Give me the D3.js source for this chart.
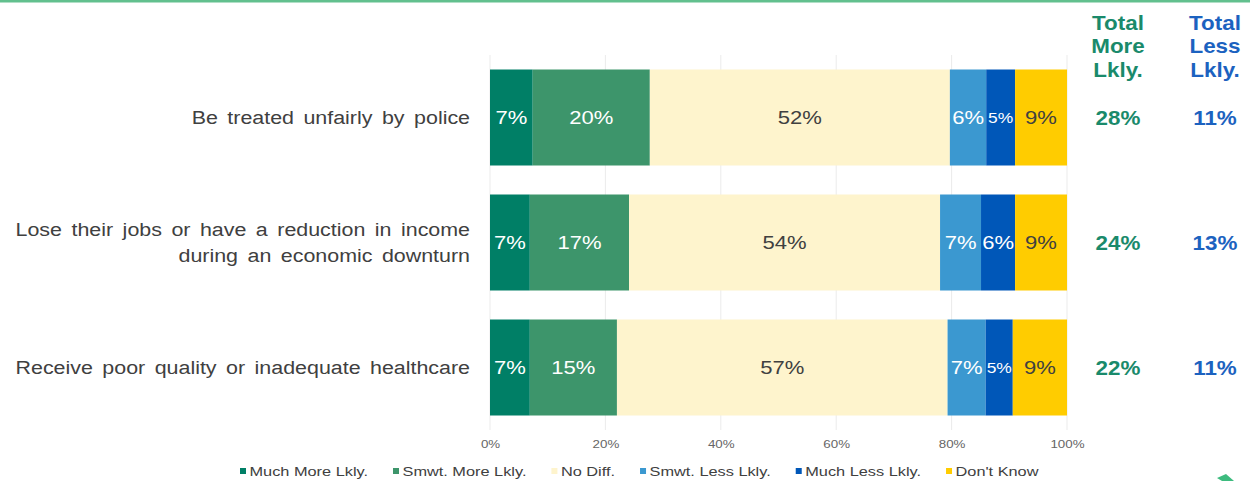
<!DOCTYPE html>
<html>
<head>
<meta charset="utf-8">
<script src="https://cdn.jsdelivr.net/npm/d3@7"></script>
<style>
  html, body { margin: 0; padding: 0; background: #fff; }
  svg { display: block; font-family: "Liberation Sans", Arial, sans-serif; }
</style>
</head>
<body>
<svg id="chart" width="1250" height="481"></svg>
<script>
// Survey items (rows of the stacked bar)
const categories = [
  "Be treated unfairly by police",
  "Lose their jobs or have a reduction in income|during an economic downturn",
  "Receive poor quality or inadequate healthcare"
];

// Response options, in stacking order
const seriesNames = ["Much More Lkly.", "Smwt. More Lkly.", "No Diff.", "Smwt. Less Lkly.", "Much Less Lkly.", "Don't Know"];

// Share of respondents (%) per response option, one value per category
const muchMore = [7.4, 6.9, 6.9];
const smwtMore = [20.3, 17.2, 15.1];
const noDiff   = [52.0, 53.9, 57.3];
const smwtLess = [6.3, 7.1, 6.6];
const muchLess = [5.0, 5.9, 4.7];
const dontKnow = [9.0, 9.0, 9.4];

// Axis tick values
const tickValues = [0, 20, 40, 60, 80, 100];

const colors = ["#007f66", "#3d956b", "#fef4cd", "#3b98d0", "#0057b8", "#ffcc00"];
const labelColors = ["#ffffff", "#ffffff", "#404040", "#ffffff", "#ffffff", "#404040"];

// Text in this layout is set slightly wide
const SX = 1.16;
const SX_CAT = 1.19;
const SX_LEG = 1.21;

const seriesValues = [muchMore, smwtMore, noDiff, smwtLess, muchLess, dontKnow];
const rows = categories.map((c, i) => {
  const r = { category: c };
  seriesNames.forEach((s, k) => r[s] = seriesValues[k][i]);
  return r;
});

const svg = d3.select("#chart");

// Top rule
svg.append("rect").attr("x", 0).attr("y", 0).attr("width", 1250).attr("height", 2.5).attr("fill", "#62c08e");

const x = d3.scaleLinear().domain([0, 100]).range([490, 1067]);
const y = d3.scaleBand().domain(categories).range([55, 430]).paddingInner(0.232).paddingOuter(0.116);

// Vertical gridlines
svg.append("g").selectAll("line").data(tickValues).join("line")
  .attr("x1", d => x(d)).attr("x2", d => x(d))
  .attr("y1", 55).attr("y2", 430)
  .attr("stroke", "#ebebeb").attr("stroke-width", 1);

// Axis tick labels
const axis = d3.axisBottom(x).tickValues(tickValues).tickFormat(d => d + "%").tickSize(0).tickPadding(0);
const ag = svg.append("g").attr("transform", "translate(0,440)").call(axis);
ag.select(".domain").remove();
ag.selectAll("text")
  .attr("fill", "#666666").attr("font-size", 11.5)
  .attr("font-family", "Liberation Sans, Arial, sans-serif")
  .attr("transform", `scale(${SX},1)`);

// Stacked bars
const stack = d3.stack().keys(seriesNames);
const layers = stack(rows);

const gLayers = svg.append("g").selectAll("g").data(layers).join("g")
  .attr("fill", (d, i) => colors[i]);

gLayers.selectAll("rect").data(d => d.map(p => ({ p, key: d.key, cat: p.data.category })))
  .join("rect")
  .attr("x", d => x(d.p[0]))
  .attr("y", d => y(d.cat))
  .attr("width", d => x(d.p[1]) - x(d.p[0]))
  .attr("height", y.bandwidth());

// Segment value labels
gLayers.each(function(layer, li) {
  d3.select(this).selectAll("text").data(layer).join("text")
    .attr("transform", p => `translate(${(x(p[0]) + x(p[1])) / 2},${y(p.data.category) + y.bandwidth() / 2}) scale(${SX},1)`)
    .attr("dy", "0.36em")
    .attr("text-anchor", "middle")
    .attr("fill", labelColors[li])
    .attr("font-size", p => (x(p[1]) - x(p[0])) < 32 ? 15 : 19)
    .text(p => Math.round(p[1] - p[0]) + "%");
});

// Category labels (right-aligned, may wrap onto two lines)
svg.append("g").selectAll("text").data(categories).join("text")
  .attr("transform", d => `translate(470,${y(d) + y.bandwidth() / 2}) scale(${SX_CAT},1)`)
  .attr("text-anchor", "end")
  .attr("fill", "#404040")
  .attr("font-size", 18)
  .style("word-spacing", "3px")
  .each(function(d) {
    const parts = d.split("|");
    const t = d3.select(this);
    const lh = 26;
    parts.forEach((s, i) => {
      t.append("tspan").attr("x", 0)
        .attr("dy", i === 0 ? (0.36 - (parts.length - 1) * lh / 2 / 18) + "em" : lh)
        .text(s);
    });
  });

// Total columns
const totalMore = rows.map(r => Math.round(r["Much More Lkly."] + r["Smwt. More Lkly."]));
const totalLess = rows.map(r => Math.round(r["Smwt. Less Lkly."] + r["Much Less Lkly."]));
const totals = [
  { title: ["Total", "More", "Lkly."], values: totalMore, color: "#1a8a6b", cx: 1118 },
  { title: ["Total", "Less", "Lkly."], values: totalLess, color: "#1c62c0", cx: 1215 }
];
totals.forEach(tc => {
  const h = svg.append("text").attr("text-anchor", "middle").attr("fill", tc.color)
    .attr("font-size", 20).attr("font-weight", "bold")
    .attr("transform", `translate(${tc.cx},0) scale(1.12,1)`);
  tc.title.forEach((s, i) => h.append("tspan").attr("x", 0).attr("y", 30 + i * 23.5).text(s));
  svg.append("g").selectAll("text").data(tc.values).join("text")
    .attr("transform", (d, i) => `translate(${tc.cx},${y(categories[i]) + y.bandwidth() / 2}) scale(1.12,1)`)
    .attr("dy", "0.36em")
    .attr("text-anchor", "middle")
    .attr("fill", tc.color)
    .attr("font-size", 20).attr("font-weight", "bold")
    .text(d => d + "%");
});

// Legend
const legend = svg.append("g").attr("transform", "translate(240,471)");
let lx = 0;
seriesNames.forEach((s, i) => {
  const g = legend.append("g").attr("transform", `translate(${lx},0)`);
  g.append("rect").attr("x", 0).attr("y", -3).attr("width", 6).attr("height", 6).attr("fill", colors[i]);
  const t = g.append("text").attr("transform", `translate(9.5,0) scale(${SX_LEG},1)`).attr("dy", "0.36em")
    .attr("fill", "#404040").attr("font-size", 13.5).text(s);
  lx += 9.5 + t.node().getComputedTextLength() * SX_LEG + 25;
});

// Corner mark
svg.append("path").attr("d", "M1217,478 L1226,474 L1234,481 L1222,481 Z").attr("fill", "#3dbb7e");
</script>
</body>
</html>
